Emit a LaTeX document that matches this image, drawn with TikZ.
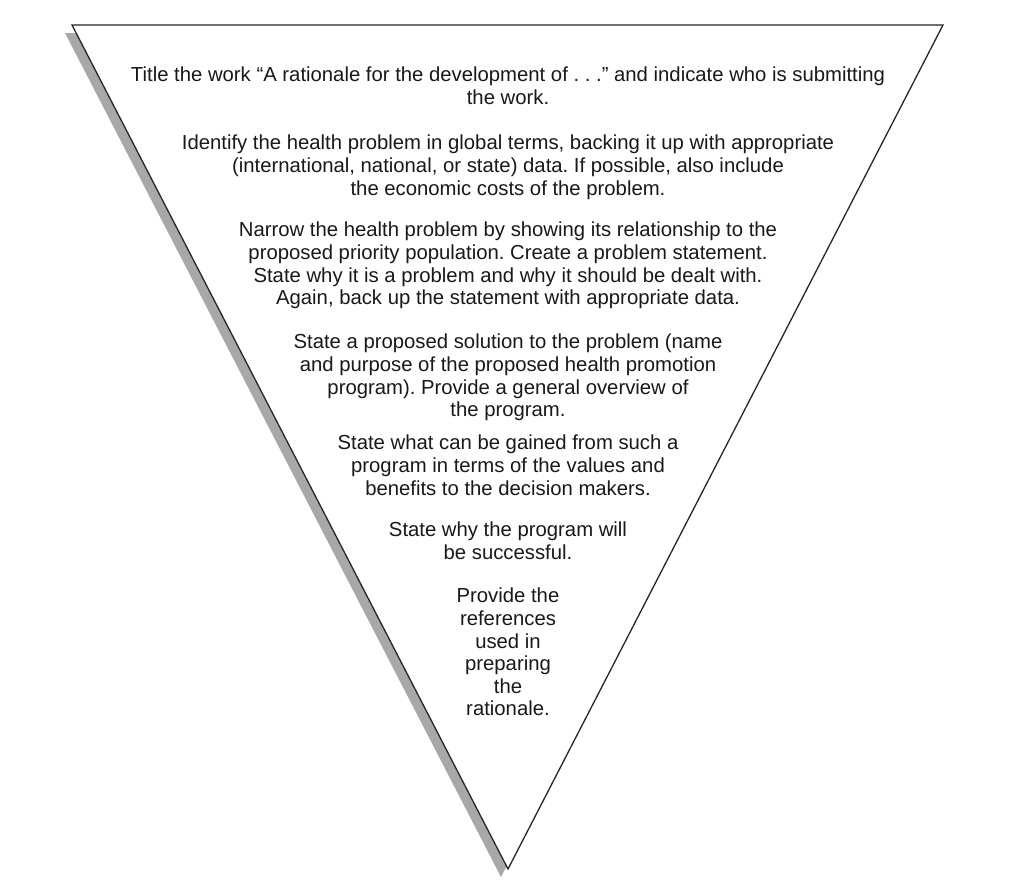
\documentclass[tikz,border=0pt]{standalone}
\usepackage{fontspec}
\setmainfont{Liberation Sans}
\definecolor{shadowgray}{HTML}{A8A8A8}
\begin{document}
\frenchspacing
\begin{tikzpicture}[x=1pt,y=-1pt,
  txt/.style={align=center, font=\frenchspacing\fontsize{20.3}{22.6}\selectfont, inner sep=0pt, anchor=north, text=black!90}]
\useasboundingbox (0,0) rectangle (1013,889);
\coordinate (A) at (72,25);
\coordinate (B) at (943,25);
\coordinate (C) at (508,869);
\fill[shadowgray] ([shift={(-7,8)}]A) -- ([shift={(-7,8)}]B) -- ([shift={(-7,8)}]C) -- cycle;
\filldraw[fill=white, draw=black!85, line width=1.3pt, line join=miter] (A) -- (B) -- (C) -- cycle;
\node[txt] (t1) at (508,67) {Title the work “A rationale for the development of . . .” and indicate who is submitting\\the work.};
\node[txt] (t2) at (508,135) {Identify the health problem in global terms, backing it up with appropriate\\(international, national, or state) data. If possible, also include\\the economic costs of the problem.};
\node[txt] (t3) at (508,222) {Narrow the health problem by showing its relationship to the\\proposed priority population. Create a problem statement.\\State why it is a problem and why it should be dealt with.\\Again, back up the statement with appropriate data.};
\node[txt] (t4) at (508,334) {State a proposed solution to the problem (name\\and purpose of the proposed health promotion\\program). Provide a general overview of\\the program.};
\node[txt] (t5) at (508,435) {State what can be gained from such a\\program in terms of the values and\\benefits to the decision makers.};
\node[txt] (t6) at (508,522) {State why the program will\\be successful.};
\node[txt] (t7) at (508,588) {Provide the\\references\\used in\\preparing\\the\\rationale.};
\end{tikzpicture}
\end{document}
